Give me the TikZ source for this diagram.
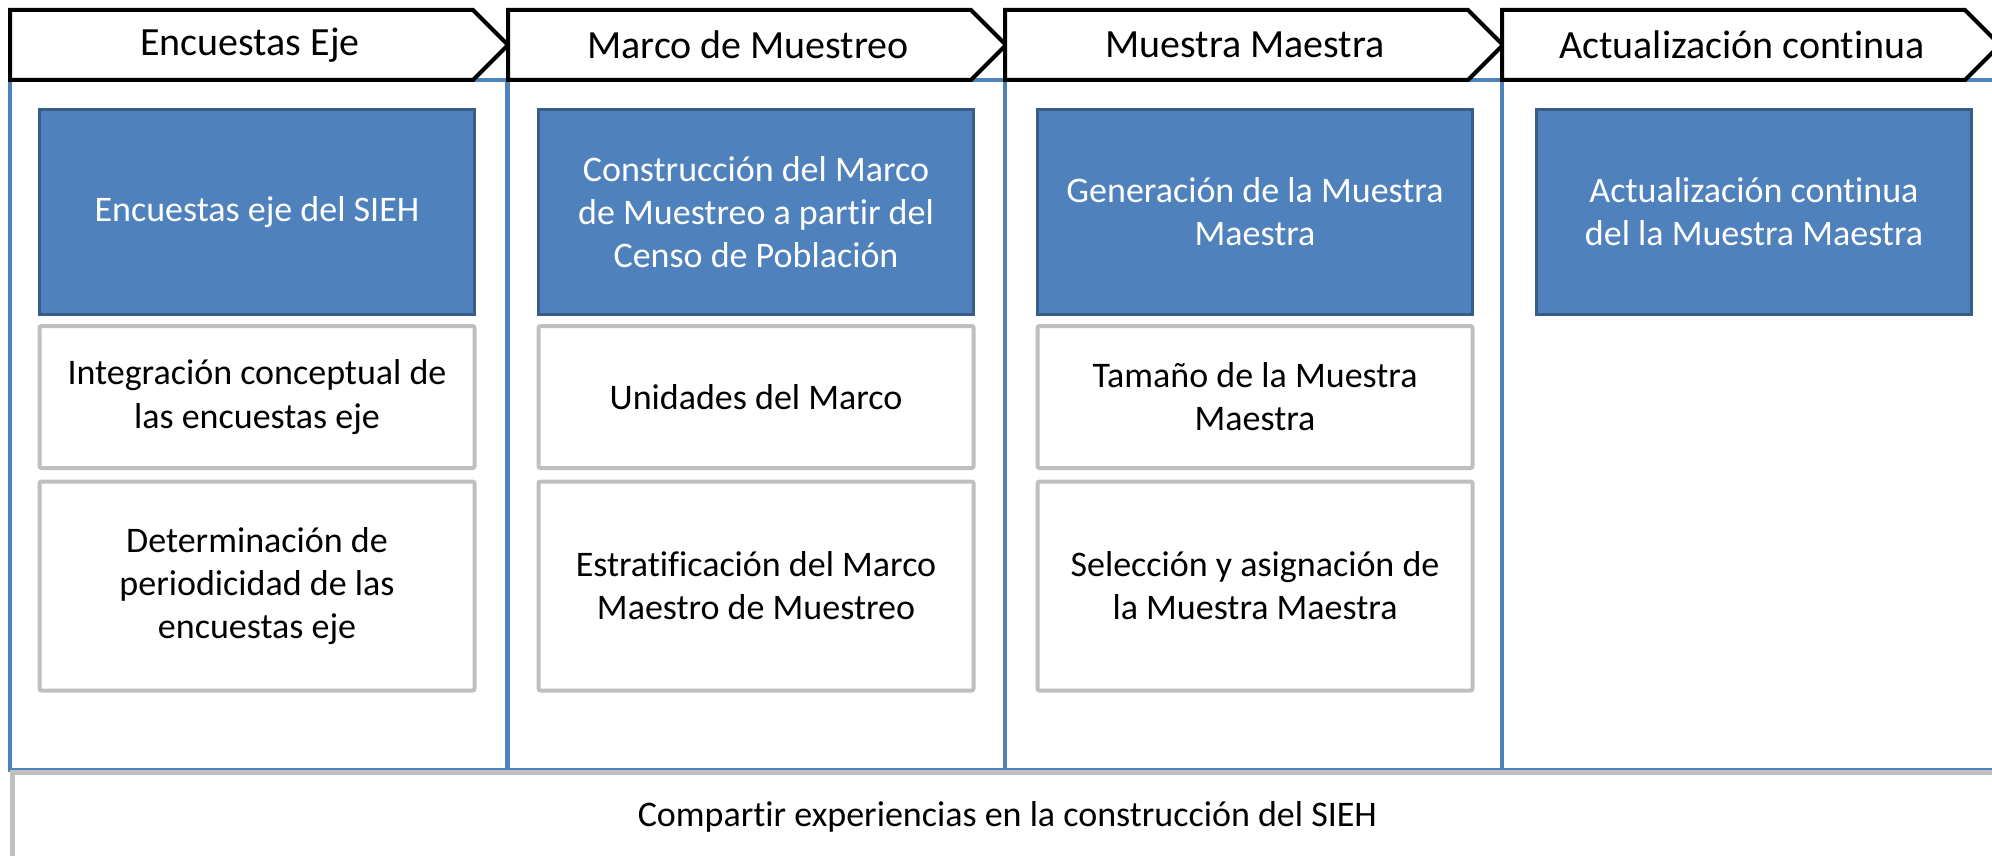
\documentclass[tikz,border=0pt]{standalone}
\usepackage{fontspec}
\setmainfont{Carlito}[Ligatures=CommonOff]
\definecolor{ejeblue}{HTML}{4F81BD}
\definecolor{ejeedge}{HTML}{385D8A}
\definecolor{ejegray}{HTML}{BFBFBF}
\tikzset{
  colbox/.style={draw=ejeblue,line width=2.4pt},
  phase/.style={draw=black,fill=white,line width=2pt,line join=miter},
  phasetext/.style={font=\fontsize{20}{24}\selectfont},
  darkbox/.style={draw=ejeedge,fill=ejeblue,line width=1.5pt,text=white,
    minimum width=217.5pt,minimum height=102pt,align=center,
    font=\fontsize{18}{21.6}\selectfont},
  lightbox/.style={draw=ejegray,fill=white,line width=2pt,rounded corners=1pt,
    minimum width=217.5pt,align=center,font=\fontsize{18}{21.6}\selectfont},
  sharebox/.style={draw=ejegray,fill=white,line width=2.4pt,align=center,
    font=\fontsize{18}{21.6}\selectfont}
}
\begin{document}
\begin{tikzpicture}[x=0.5pt,y=-0.5pt]
	\useasboundingbox (0,0) rectangle (1992,856);
	\clip (0,0) rectangle (1992,856);
	\foreach \x in {10,508,1005,1502} \draw[colbox] (\x,80) rectangle +(497,690);
	\foreach \x/\t [count=\i] in {10/Encuestas Eje,508/Marco de Muestreo,1005/Muestra Maestra,1502/Actualización continua}{
		\draw[phase] (\x,10) -- ++(463,0) -- ++(35,35) -- ++(-35,35) -- ++(-463,0) -- cycle ;
		\node[phasetext] (h\i) at (\x+240,45) {\t};
	}
	% column 1
	\node[darkbox] (eje) at (257,212) {Encuestas eje del SIEH};
	\node[lightbox,minimum height=71pt] (integ) at (257,397) {Integración conceptual de\\las encuestas eje};
	\node[lightbox,minimum height=104.5pt] (period) at (257,586) {Determinación de\\periodicidad de las\\encuestas eje};
	% column 2
	\node[darkbox] (marco) at (756,212) {Construcción del Marco\\de Muestreo a partir del\\Censo de Población};
	\node[lightbox,minimum height=71pt] (unid) at (756,397) {Unidades del Marco};
	\node[lightbox,minimum height=104.5pt] (estrat) at (756,586) {Estratificación del Marco\\Maestro de Muestreo};
	% column 3
	\node[darkbox] (gener) at (1255,212) {Generación de la Muestra\\Maestra};
	\node[lightbox,minimum height=71pt] (tam) at (1255,397) {Tamaño de la Muestra\\Maestra};
	\node[lightbox,minimum height=104.5pt] (selec) at (1255,586) {Selección y asignación de\\la Muestra Maestra};
	% column 4
	\node[darkbox] (actual) at (1754,212) {Actualización continua\\del la Muestra Maestra};
	% bottom band
	\node[sharebox,anchor=north west,minimum width=995pt,minimum height=44pt] (share) at (10,770) {Compartir experiencias en la construcción del SIEH};
\end{tikzpicture}
\end{document}
